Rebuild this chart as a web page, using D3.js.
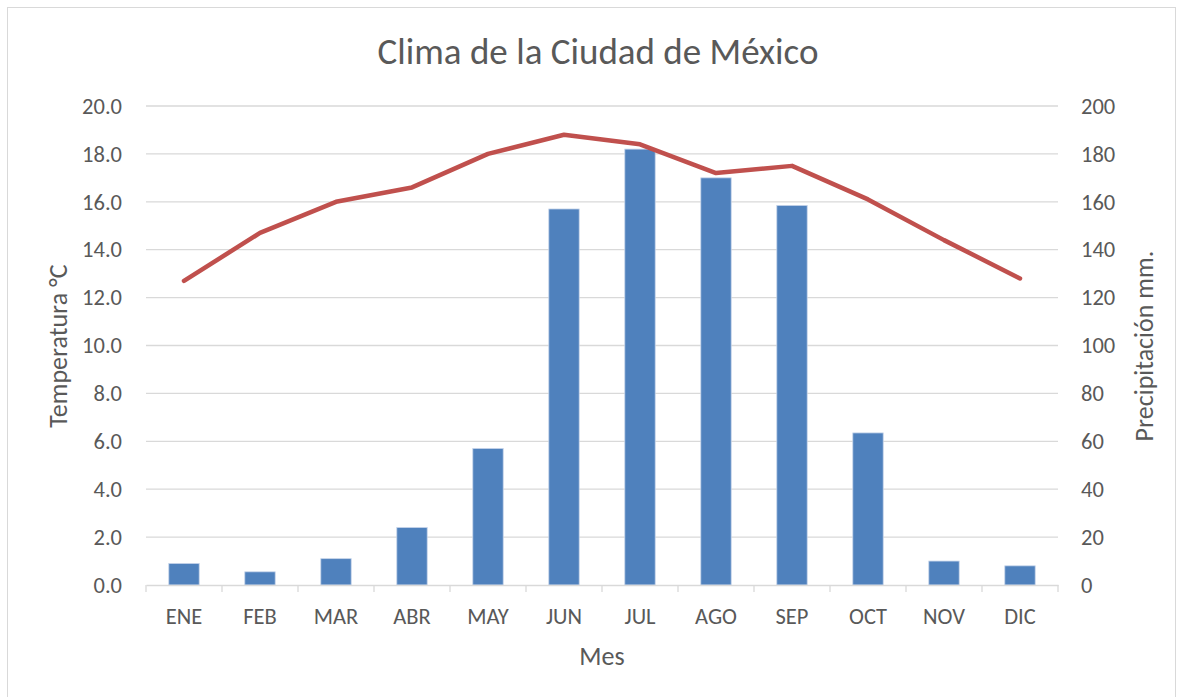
<!DOCTYPE html>
<html><head><meta charset="utf-8">
<script src="https://cdn.jsdelivr.net/npm/d3@7"></script>
<style>body{margin:0;background:#fff}svg{display:block}text{font-family:Carlito,Calibri,Lato,"Open Sans",sans-serif;fill:#595959}</style>
</head><body><svg id="c" width="1183" height="697"></svg>
<script>
const months = ["ENE","FEB","MAR","ABR","MAY","JUN","JUL","AGO","SEP","OCT","NOV","DIC"];
const precipitation = [9, 5.5, 11, 24, 57, 157, 182, 170, 158.5, 63.5, 10, 8];
const temperature = [12.7, 14.7, 16.0, 16.6, 18.0, 18.8, 18.4, 17.2, 17.5, 16.1, 14.4, 12.8];
const tempTicks = [0,2,4,6,8,10,12,14,16,18,20];
const precTicks = [0,20,40,60,80,100,120,140,160,180,200];

const svg = d3.select("#c");
svg.append("rect").attr("x",7.5).attr("y",7.5).attr("width",1168).attr("height",700).attr("fill","#fff").attr("stroke","#d9d9d9");

const L=146, R=1058, T=106, B=585;
const xb = d3.scaleBand().domain(months).range([L,R]);
const yT = d3.scaleLinear().domain([0,20]).range([B,T]);
const yP = d3.scaleLinear().domain([0,200]).range([B,T]);

// gridlines
svg.append("g").selectAll("line").data(tempTicks.slice(1)).join("line")
  .attr("x1",L).attr("x2",R).attr("y1",d=>yT(d)).attr("y2",d=>yT(d))
  .attr("stroke","#d9d9d9").attr("stroke-width",1.3);

// bars
svg.append("g").selectAll("rect").data(precipitation).join("rect")
  .attr("x",(d,i)=>xb(months[i])+xb.bandwidth()*0.3)
  .attr("width",xb.bandwidth()*0.4)
  .attr("y",d=>yP(d)).attr("height",d=>B-yP(d))
  .attr("fill","#4f81bd").attr("stroke","#c6d4ea").attr("stroke-width",0.8);

// x axis
const xa = svg.append("g").attr("transform",`translate(0,${B})`)
  .call(d3.axisBottom(xb).tickSize(0).tickPadding(23));
xa.select(".domain").attr("stroke","#d9d9d9").attr("stroke-width",1.3);
xa.selectAll("text").attr("font-size",22.5).attr("font-family",null);
const bounds = months.map(m=>xb(m)).concat([R]);
svg.append("g").selectAll("line").data(bounds).join("line")
  .attr("x1",d=>d).attr("x2",d=>d).attr("y1",B).attr("y2",B+7)
  .attr("stroke","#d9d9d9").attr("stroke-width",1.3);

// left axis
const la = svg.append("g").attr("transform",`translate(${L},0)`)
  .call(d3.axisLeft(yT).tickValues(tempTicks).tickFormat(d3.format(".1f")).tickSize(0).tickPadding(24));
la.select(".domain").remove();
la.selectAll("text").attr("font-size",22.5).attr("font-family",null);

// right axis
const ra = svg.append("g").attr("transform",`translate(${R},0)`)
  .call(d3.axisRight(yP).tickValues(precTicks).tickSize(0).tickPadding(23));
ra.select(".domain").remove();
ra.selectAll("text").attr("font-size",22.5).attr("font-family",null);

// line
const line = d3.line().x((d,i)=>xb(months[i])+xb.bandwidth()/2).y(d=>yT(d));
svg.append("path").datum(temperature).attr("d",line).attr("fill","none")
  .attr("stroke","#c0504d").attr("stroke-width",4.5).attr("stroke-linejoin","round").attr("stroke-linecap","round");

// titles
svg.append("text").attr("x",598).attr("y",64).attr("text-anchor","middle").attr("font-size",37).text("Clima de la Ciudad de México");
svg.append("text").attr("x",602).attr("y",665).attr("text-anchor","middle").attr("font-size",26).text("Mes");
svg.append("text").attr("transform","translate(67,346) rotate(-90)").attr("text-anchor","middle").attr("font-size",26).text("Temperatura °C");
svg.append("text").attr("transform","translate(1153,346) rotate(-90)").attr("text-anchor","middle").attr("font-size",26).text("Precipitación mm.");
</script></body></html>
